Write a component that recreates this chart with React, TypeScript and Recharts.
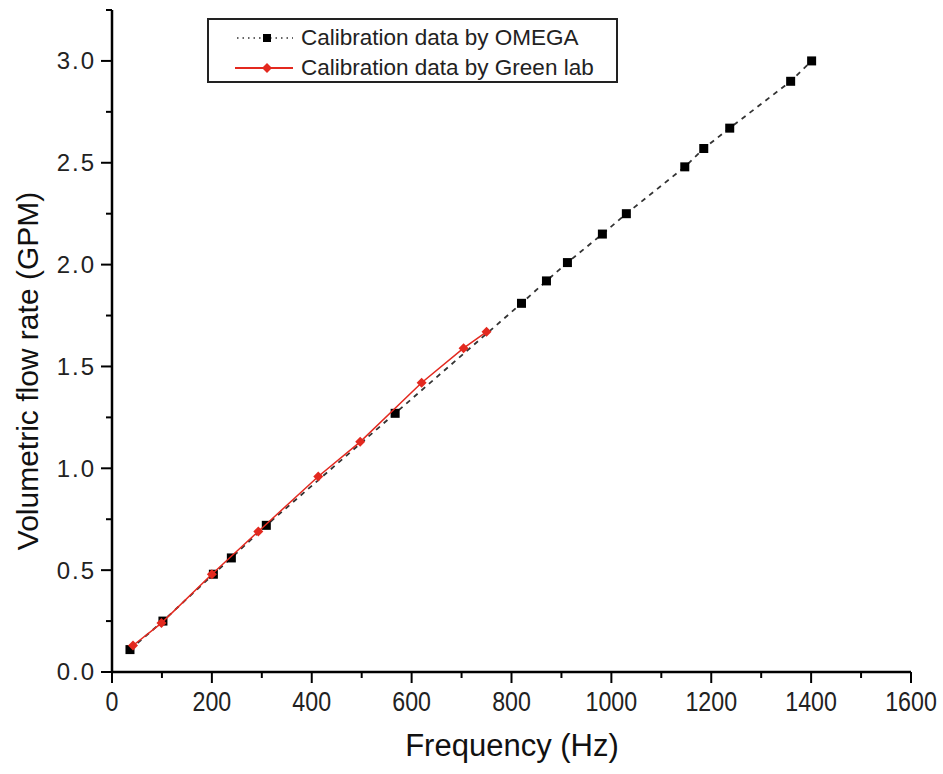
import React from 'react';
import { ScatterChart, Scatter, XAxis, YAxis, Legend } from 'recharts';

const omegaFreq = [36, 102, 203, 239, 309, 567, 820, 870, 912, 982, 1030, 1147, 1185, 1237, 1359, 1401];
const omegaFlow = [0.11, 0.25, 0.48, 0.56, 0.72, 1.27, 1.81, 1.92, 2.01, 2.15, 2.25, 2.48, 2.57, 2.67, 2.9, 3.0];
const greenFreq = [42, 99, 200, 293, 413, 497, 620, 704, 750];
const greenFlow = [0.13, 0.24, 0.48, 0.69, 0.96, 1.13, 1.42, 1.59, 1.67];

const xTicks = [0, 100, 200, 300, 400, 500, 600, 700, 800, 900, 1000, 1100, 1200, 1300, 1400, 1500, 1600];
const yTicks = [0, 0.25, 0.5, 0.75, 1.0, 1.25, 1.5, 1.75, 2.0, 2.25, 2.5, 2.75, 3.0, 3.25];

const omegaName = 'Calibration data by OMEGA';
const greenName = 'Calibration data by Green lab';
const xTitle = 'Frequency (Hz)';
const yTitle = 'Volumetric flow rate (GPM)';

const omegaData = omegaFreq.map((f, i) => ({ f, v: omegaFlow[i] }));
const greenData = greenFreq.map((f, i) => ({ f, v: greenFlow[i] }));

const FONT = '"Liberation Sans", Arial, sans-serif';
const RED = '#e3291f';

const XTick = (props: any) => {
  const { x, y, payload, index } = props;
  const major = payload.value % 200 === 0;
  return (
    <g>
      <line x1={x} x2={x} y1={y} y2={y + (major ? 11 : 6)} stroke="#000" strokeWidth={2} />
      {major && (
        <text
          x={x}
          y={y + 39}
          textAnchor="middle"
          fontSize={27}
          fill="#222"
          fontFamily={FONT}
          transform={`translate(${x}, 0) scale(0.86, 1) translate(${-x}, 0)`}
        >
          {payload.value}
        </text>
      )}
      {index === 0 && (
        <text x={x + 400} y={y + 84} textAnchor="middle" fontSize={31} fill="#111" fontFamily={FONT}>
          {xTitle}
        </text>
      )}
    </g>
  );
};

const YTick = (props: any) => {
  const { x, y, payload } = props;
  const v = payload.value;
  const major = Math.abs(v * 2 - Math.round(v * 2)) < 1e-6;
  return (
    <g>
      <line x1={x - (major ? 11 : 6)} x2={x} y1={y} y2={y} stroke="#000" strokeWidth={2} />
      {major && (
        <text x={x - 16} y={y} dy="0.35em" textAnchor="end" fontSize={24} letterSpacing={2} fill="#222" fontFamily={FONT}>
          {v.toFixed(1)}
        </text>
      )}
    </g>
  );
};

const YLabel = (props: any) => {
  const { viewBox } = props;
  const cx = 27;
  const cy = viewBox.y + viewBox.height / 2 + 30;
  return (
    <text x={cx} y={cy} transform={`rotate(-90, ${cx}, ${cy})`} textAnchor="middle" dominantBaseline="central" fontSize={30} fill="#111" fontFamily={FONT}>
      {yTitle}
    </text>
  );
};

const LegendBox = () => (
  <div
    style={{
      width: 411,
      height: 65,
      boxSizing: 'border-box',
      border: '2px solid #222',
      background: '#fff',
      fontFamily: FONT,
      fontSize: 22.5,
      color: '#222',
      paddingTop: 3,
    }}
  >
    <div style={{ display: 'flex', alignItems: 'center', height: 30 }}>
      <svg width={92} height={30}>
        <line x1={28} x2={84} y1={15} y2={15} stroke="#333" strokeWidth={1.5} strokeDasharray="1.5 4" />
        <rect x={54} y={11} width={8} height={8} fill="#000" />
      </svg>
      <span>{omegaName}</span>
    </div>
    <div style={{ display: 'flex', alignItems: 'center', height: 30 }}>
      <svg width={92} height={30}>
        <line x1={26} x2={84} y1={15} y2={15} stroke={RED} strokeWidth={2} />
        <polygon points="58,10 63,15 58,20 53,15" fill={RED} />
      </svg>
      <span>{greenName}</span>
    </div>
  </div>
);

const Diamond = (props: any) => {
  const { cx, cy } = props;
  return <polygon points={`${cx},${cy - 5} ${cx + 5},${cy} ${cx},${cy + 5} ${cx - 5},${cy}`} fill={RED} />;
};

const Square = (props: any) => {
  const { cx, cy } = props;
  return <rect x={cx - 4.5} y={cy - 4.5} width={9} height={9} fill="#000" />;
};

export default function App() {
  return (
    <div style={{ position: 'absolute', left: 0, top: 0, width: 943, height: 774, background: '#fff' }}>
      <ScatterChart width={943} height={774} margin={{ top: 10, right: 32, bottom: 0, left: 0 }}>
        <XAxis
          type="number"
          dataKey="f"
          domain={[0, 1600]}
          ticks={xTicks}
          interval={0}
          height={102}
          tickSize={0}
          tickMargin={0}
          tickLine={false}
          axisLine={{ stroke: '#000', strokeWidth: 2.5 }}
          tick={<XTick />}
        />
        <YAxis
          type="number"
          dataKey="v"
          domain={[0, 3.25]}
          ticks={yTicks}
          interval={0}
          width={112}
          tickSize={0}
          tickMargin={0}
          tickLine={false}
          axisLine={{ stroke: '#000', strokeWidth: 2.5 }}
          tick={<YTick />}
          label={<YLabel />}
        />
        <Legend
          layout="vertical"
          align="center"
          verticalAlign="middle"
          content={<LegendBox />}
          wrapperStyle={{ position: 'absolute', left: 207, top: 18, width: 411, height: 65 }}
        />
        <Scatter
          name={omegaName}
          data={omegaData}
          fill="#000"
          shape={<Square />}
          line={{ stroke: '#333', strokeWidth: 1.8, strokeDasharray: '5 5' }}
          lineType="joint"
          isAnimationActive={false}
        />
        <Scatter
          name={greenName}
          data={greenData}
          fill={RED}
          shape={<Diamond />}
          line={{ stroke: RED, strokeWidth: 1.5 }}
          lineType="joint"
          isAnimationActive={false}
        />
      </ScatterChart>
    </div>
  );
}
